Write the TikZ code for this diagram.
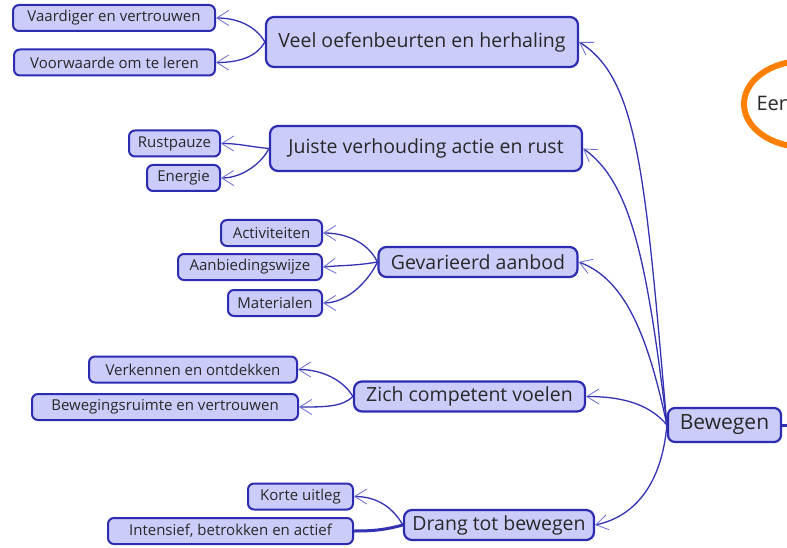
\documentclass[tikz,border=0pt]{standalone}
\usepackage{fontspec}
\setmainfont{Open Sans}
\usepackage{tikz}
\usetikzlibrary{arrows.meta,shapes.geometric}
\definecolor{boxfill}{RGB}{204,204,250}
\definecolor{boxline}{RGB}{44,44,176}
\definecolor{linkline}{RGB}{50,50,178}
\definecolor{tipline}{RGB}{105,105,215}
\definecolor{textgray}{RGB}{40,40,40}
\definecolor{bubbleline}{RGB}{255,128,0}

\begin{document}
\begin{tikzpicture}
    [x=1pt, y=-1pt,
    root/.style={draw=boxline, fill=boxfill, line width=2.2pt, rounded corners=7pt,
      text=textgray, font=\fontsize{21}{24}\selectfont, minimum width=113pt, minimum height=34pt},
    main/.style={draw=boxline, fill=boxfill, line width=2.2pt, rounded corners=8pt,
      text=textgray, font=\fontsize{19.5}{22}\selectfont, minimum height=30pt},
    sub/.style={draw=boxline, fill=boxfill, line width=2pt, rounded corners=6pt,
      text=textgray, font=\fontsize{15}{18}\selectfont, minimum height=26pt},
    link/.style={draw=linkline, line width=1.3pt,
      -{Straight Barb[length=12pt, width=15pt, line width=0.8pt, color=tipline]}},
    bold/.style={draw=linkline, line width=3pt},
    bubble/.style={ellipse, draw=bubbleline, line width=6pt}]
  \useasboundingbox (0,0) rectangle (787,548);
  \clip (0,0) rectangle (787,548);

  % centre and its topics
  \node [root] (bewegen) at (724.5,425) {Bewegen};
  \node [main, minimum width=312pt, minimum height=50pt] (oefen) at (422,42) {Veel oefenbeurten en herhaling};
  \node [main, minimum width=312pt, minimum height=45pt] (verhouding) at (426,148.5) {Juiste verhouding actie en rust};
  \node [main, minimum width=199pt] (aanbod) at (478,262) {Gevarieerd aanbod};
  \node [main, minimum width=231pt] (competent) at (469.5,396.5) {Zich competent voelen};
  \node [main, minimum width=190pt] (drang) at (499,525) {Drang tot bewegen};

  % subtopics
  \node [sub, minimum width=202pt] (vaardiger) at (114,18) {Vaardiger en vertrouwen};
  \node [sub, minimum width=201pt] (voorwaarde) at (114.5,62.5) {Voorwaarde om te leren};
  \node [sub, minimum width=91pt] (rustpauze) at (174.5,143.5) {Rustpauze};
  \node [sub, minimum width=73pt] (energie) at (183.5,178) {Energie};
  \node [sub, minimum width=101pt] (activiteiten) at (271.5,233) {Activiteiten};
  \node [sub, minimum width=144pt] (aanbieding) at (250,267) {Aanbiedingswijze};
  \node [sub, minimum width=94pt] (materialen) at (275,303) {Materialen};
  \node [sub, minimum width=208pt] (verkennen) at (193,369.5) {Verkennen en ontdekken};
  \node [sub, minimum width=266pt] (ruimte) at (165,407) {Bewegingsruimte en vertrouwen};
  \node [sub, minimum width=105pt] (uitleg) at (300.5,496.5) {Korte uitleg};
  \node [sub, minimum width=245pt] (intensief) at (230.5,531) {Intensief, betrokken en actief};

  % next map, cut off at the edge
  \node [bubble, minimum width=120pt, minimum height=86pt] (een) at (804,104) {};
  \node [anchor=west, text=textgray, font=\fontsize{20}{23}\selectfont] (eentekst) at (753,103) {Een};
  \coordinate (rand) at (790,425);
  \draw [bold] (bewegen.east) -- (rand);

  \draw [link] (bewegen.west) to[out=95, in=-32, out distance=250pt, in distance=70pt] (oefen.east);
  \draw [link] (bewegen.west) to[out=97, in=-35, out distance=160pt, in distance=60pt] (verhouding.east);
  \draw [link] (bewegen.west) to[out=102, in=-20, out distance=90pt, in distance=50pt] (aanbod.east);
  \draw [link] (bewegen.west) to[out=130, in=0, out distance=25pt, in distance=40pt] (competent.east);
  \draw [link] (bewegen.west) to[out=-95, in=12, out distance=60pt, in distance=40pt] (drang.east);

  \draw [link] (oefen.west) to[out=120, in=0, out distance=18pt, in distance=22pt] (vaardiger.east);
  \draw [link] (oefen.west) to[out=-120, in=0, out distance=18pt, in distance=22pt] (voorwaarde.east);
  \draw [link] (verhouding.west) to[out=175, in=0] (rustpauze.east);
  \draw [link] (verhouding.west) to[out=-115, in=0, out distance=15pt, in distance=22pt] (energie.east);
  \draw [link] (aanbod.west) to[out=115, in=0, out distance=20pt, in distance=25pt] (activiteiten.east);
  \draw [link] (aanbod.west) to[out=190, in=5] (aanbieding.east);
  \draw [link] (aanbod.west) to[out=-115, in=0, out distance=20pt, in distance=25pt] (materialen.east);
  \draw [link] (competent.west) to[out=120, in=0, out distance=18pt, in distance=25pt] (verkennen.east);
  \draw [link] (competent.west) to[out=-135, in=0, out distance=15pt, in distance=25pt] (ruimte.east);
  \draw [link] (drang.west) to[out=120, in=0, out distance=18pt, in distance=25pt] (uitleg.east);
  \draw [bold] (drang.west) to[out=195, in=0] (intensief.east);
\end{tikzpicture}
\end{document}
